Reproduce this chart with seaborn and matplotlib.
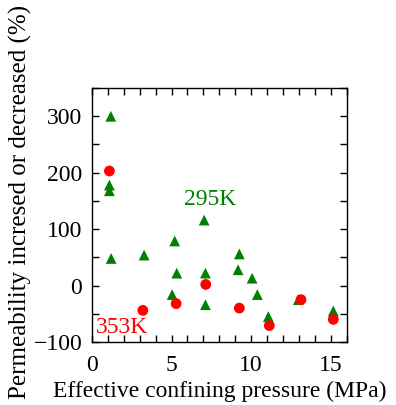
import pandas as pd
import matplotlib.pyplot as plt
import seaborn as sns
from matplotlib.ticker import MultipleLocator

# 295K data (green triangles)
x_295 = [1.19, 1.1, 1.1, 1.21, 3.28, 5.2, 5.33, 5.04, 7.05, 7.13, 7.13, 9.26, 9.18, 10.06, 10.39, 11.08, 12.96, 15.16]
y_295 = [300, 178, 168, 48, 54, 79, 22, -16, 116, 22, -34, 56, 28, 13, -16, -55, -25, -45]

# 353K data (red circles)
x_353 = [1.1, 3.2, 5.29, 7.15, 9.26, 11.14, 13.13, 15.16]
y_353 = [203, -44, -32, 2, -40, -71, -25, -60]

d295 = pd.DataFrame({'p': x_295, 'perm': y_295})
d353 = pd.DataFrame({'p': x_353, 'perm': y_353})

sns.set_style('ticks')
plt.rcParams['font.family'] = ['Liberation Serif', 'DejaVu Serif']

fig = plt.figure(figsize=(3.96, 4.05), dpi=100)
ax = fig.add_axes([0.232, 0.1556, 0.6435, 0.627])

sns.scatterplot(data=d295, x='p', y='perm', marker='^', s=60, color='#008000',
                edgecolor='none', ax=ax)
sns.scatterplot(data=d353, x='p', y='perm', marker='o', s=60, color='#ff0000',
                edgecolor='none', ax=ax)

ax.text(7.43, 153, '295K', color='#008000', fontsize=17, ha='center', va='center')
ax.text(1.88, -75, '353K', color='#ff0000', fontsize=17, ha='center', va='center')

ax.set_xlim(0, 16)
ax.set_ylim(-100, 350)
ax.xaxis.set_major_locator(MultipleLocator(5))
ax.xaxis.set_minor_locator(MultipleLocator(1))
ax.yaxis.set_major_locator(MultipleLocator(100))
ax.yaxis.set_minor_locator(MultipleLocator(50))
ax.tick_params(which='both', direction='in', top=True, right=True, length=5,
               width=1, color='black', labelsize=17, labelcolor='black')
ax.tick_params(axis='x', which='major', pad=9.5)
ax.tick_params(axis='y', which='major', pad=7)
for sp in ax.spines.values():
    sp.set_visible(True)
    sp.set_color('black')
    sp.set_linewidth(1)

ax.set_xlabel('Effective confining pressure (MPa)', fontsize=17, color='black', labelpad=3)
ax.set_ylabel('Permeability incresed or decreased (%)', fontsize=18, color='black')
ax.yaxis.set_label_coords(-0.236, 0.551)

fig.savefig('out.png', dpi=100)
